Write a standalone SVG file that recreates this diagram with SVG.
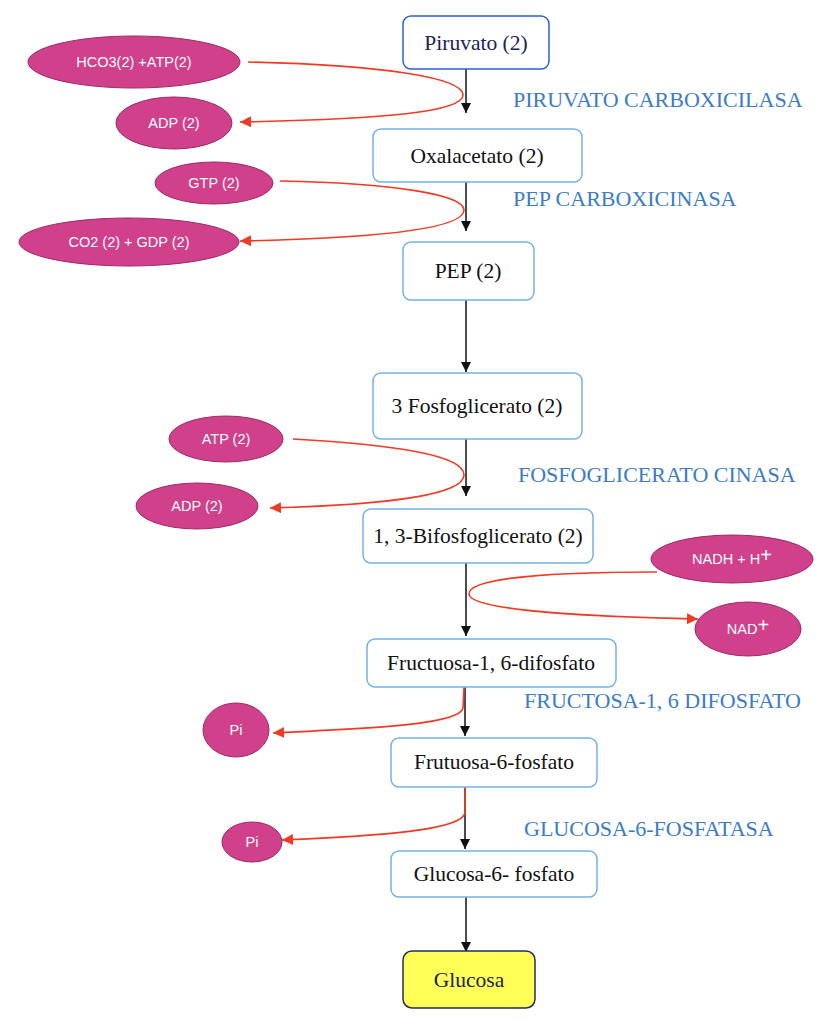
<svg xmlns="http://www.w3.org/2000/svg" width="828" height="1022" viewBox="0 0 828 1022">
<defs>
<marker id="ab" viewBox="0 0 10 10" refX="10" refY="5" markerWidth="10" markerHeight="10" markerUnits="userSpaceOnUse" orient="auto"><path d="M0,0 L10,5 L0,10 z" fill="#111"/></marker>
<marker id="ar" viewBox="0 0 10 10" refX="10" refY="5" markerWidth="11" markerHeight="11" markerUnits="userSpaceOnUse" orient="auto"><path d="M0,0 L10,5 L0,10 z" fill="#f03a24"/></marker>
<style>
.box{fill:#fff;stroke:#74b1e6;stroke-width:1.5}
.nt{font-family:"Liberation Serif",serif;font-size:21.5px;fill:#111;text-anchor:middle}
.el{fill:#d1408b;stroke:#9a2a66;stroke-width:1}
.et{font-family:"Liberation Sans",Arial,sans-serif;font-size:14.5px;fill:#fff;text-anchor:middle}
.enz{font-family:"Liberation Serif",serif;font-size:22px;fill:#3a7cc9}
.blk{fill:none;stroke:#111;stroke-width:1.5;marker-end:url(#ab)}
.red{fill:none;stroke:#f03a24;stroke-width:1.6;marker-end:url(#ar)}
</style>
</defs>
<rect width="828" height="1022" fill="#fff"/>
<g id="connectors">
<path class="blk" d="M466,69 V113"/>
<path class="blk" d="M466,182 V231"/>
<path class="blk" d="M466,300 V372"/>
<path class="blk" d="M466,439 V496"/>
<path class="blk" d="M466,563 V636"/>
<path class="blk" d="M465,687 V736"/>
<path class="blk" d="M465,787 V849"/>
<path class="blk" d="M466,897 V952"/>
<path class="red" d="M248,62 C385,65 463,78 463,95 C463,112 385,119 240,122"/>
<path class="red" d="M280,181 C395,183 464,195 464,210 C464,228 385,238 240,241"/>
<path class="red" d="M293,439 C395,445 464,455 464,475 C464,495 385,505 270,508"/>
<path class="red" d="M657,572 C560,572 469,577 469,594 C469,611 600,617 698,619"/>
<path class="red" d="M464,687 L463,708 C460,724 380,728 273,733"/>
<path class="red" d="M465,787 L465,813 C462,830 380,836 282,840"/>
</g>
<g id="piruvato"><rect x="403" y="16" width="146" height="53" rx="8" fill="#fff" stroke="#2f5fd0" stroke-width="1.5"/><text class="nt" x="476" y="50" style="fill:#1a2457">Piruvato (2)</text></g>
<g id="oxalacetato"><rect class="box" x="373" y="129" width="209" height="53" rx="8"/><text class="nt" x="477" y="163">Oxalacetato (2)</text></g>
<g id="pep"><rect class="box" x="403" y="242" width="131" height="58" rx="8"/><text class="nt" x="468" y="278">PEP (2)</text></g>
<g id="fosfoglicerato3"><rect class="box" x="373" y="373" width="209" height="66" rx="8"/><text class="nt" x="477" y="413">3 Fosfoglicerato (2)</text></g>
<g id="bifosfoglicerato"><rect class="box" x="363" y="509" width="230" height="54" rx="8"/><text class="nt" x="478" y="543">1, 3-Bifosfoglicerato (2)</text></g>
<g id="fructuosa16"><rect class="box" x="367" y="639" width="249" height="48" rx="8"/><text class="nt" x="491" y="670">Fructuosa-1, 6-difosfato</text></g>
<g id="frutuosa6"><rect class="box" x="391" y="738" width="206" height="49" rx="8"/><text class="nt" x="494" y="769">Frutuosa-6-fosfato</text></g>
<g id="glucosa6"><rect class="box" x="391" y="851" width="206" height="46" rx="8"/><text class="nt" x="494" y="881">Glucosa-6- fosfato</text></g>
<g id="glucosa"><rect x="403" y="951" width="132" height="57" rx="9" fill="#ffff57" stroke="#1f2f5a" stroke-width="1.5"/><text class="nt" x="469" y="987" style="fill:#1a2457">Glucosa</text></g>
<g id="hco3"><ellipse class="el" cx="134" cy="62" rx="106" ry="26"/><text class="et" x="134" y="67">HCO3(2) +ATP(2)</text></g>
<g id="adp1"><ellipse class="el" cx="174" cy="123" rx="58" ry="26"/><text class="et" x="174" y="128">ADP (2)</text></g>
<g id="gtp"><ellipse class="el" cx="214" cy="183" rx="59" ry="21"/><text class="et" x="214" y="188">GTP (2)</text></g>
<g id="co2gdp"><ellipse class="el" cx="129" cy="242" rx="110" ry="24"/><text class="et" x="129" y="247">CO2 (2) + GDP (2)</text></g>
<g id="atp"><ellipse class="el" cx="226" cy="439" rx="57" ry="23"/><text class="et" x="226" y="444">ATP (2)</text></g>
<g id="adp2"><ellipse class="el" cx="197" cy="506" rx="61" ry="23"/><text class="et" x="197" y="511">ADP (2)</text></g>
<g id="nadh"><ellipse class="el" cx="732" cy="559" rx="81" ry="24"/><text class="et" x="732" y="564">NADH + H<tspan font-size="20" dy="-2" font-weight="200">+</tspan></text></g>
<g id="nad"><ellipse class="el" cx="748" cy="629" rx="53" ry="27"/><text class="et" x="748" y="634">NAD<tspan font-size="20" dy="-2" font-weight="200">+</tspan></text></g>
<g id="pi1"><ellipse class="el" cx="236" cy="730" rx="33" ry="27"/><text class="et" x="236" y="735">Pi</text></g>
<g id="pi2"><ellipse class="el" cx="252" cy="842" rx="30" ry="20"/><text class="et" x="252" y="847">Pi</text></g>
<g id="enzymes">
<text class="enz" x="513" y="107">PIRUVATO CARBOXICILASA</text>
<text class="enz" x="513" y="206">PEP CARBOXICINASA</text>
<text class="enz" x="518" y="482">FOSFOGLICERATO CINASA</text>
<text class="enz" x="524" y="708">FRUCTOSA-1, 6 DIFOSFATO</text>
<text class="enz" x="524" y="836">GLUCOSA-6-FOSFATASA</text>
</g>
</svg>
